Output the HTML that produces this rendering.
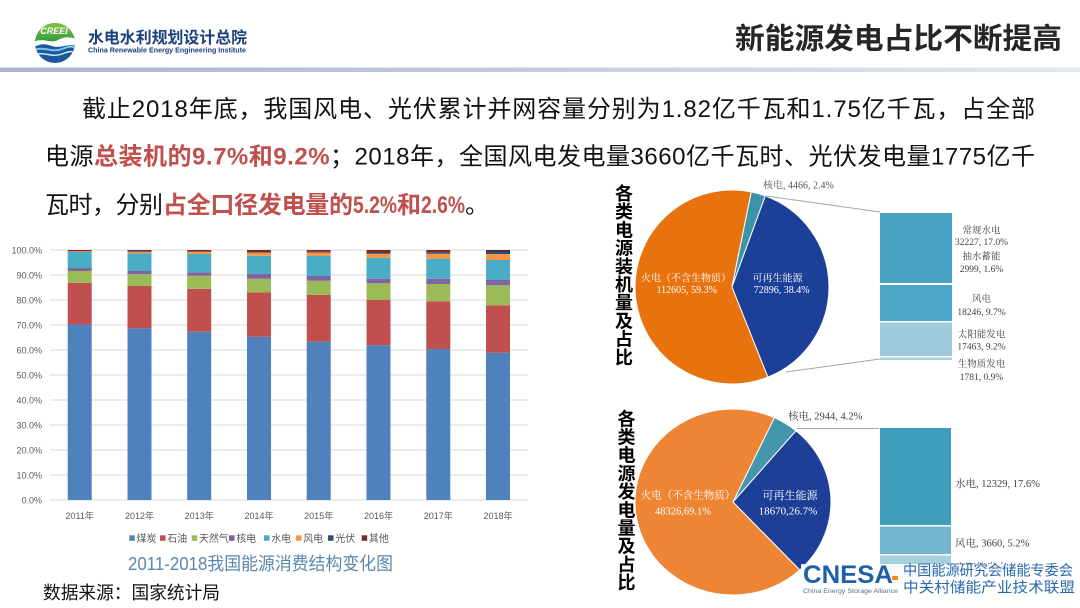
<!DOCTYPE html>
<html>
<head>
<meta charset="utf-8">
<style>
  html,body{margin:0;padding:0;background:#fff;}
  body{width:1080px;height:608px;overflow:hidden;position:relative;}
  svg{position:absolute;left:0;top:0;}
  .s{font-family:"Liberation Sans","Noto Sans CJK SC",sans-serif;}
  .sf{font-family:"Liberation Serif","Noto Serif CJK SC",serif;}
</style>
</head>
<body>
<svg width="1080" height="608" viewBox="0 0 1080 608" xmlns="http://www.w3.org/2000/svg">
  <defs>
    <linearGradient id="hl" x1="0" x2="1" y1="0" y2="0">
      <stop offset="0" stop-color="#a7b4cb"/>
      <stop offset="0.5" stop-color="#c3ccdb"/>
      <stop offset="1" stop-color="#e4e9f0"/>
    </linearGradient>
    <linearGradient id="lgG" x1="0" y1="0" x2="0" y2="1">
      <stop offset="0" stop-color="#8dc63f"/>
      <stop offset="1" stop-color="#2f9a45"/>
    </linearGradient>
    <clipPath id="lc"><circle cx="55" cy="43" r="20"/></clipPath>
  </defs>

  <!-- Header -->
  <rect x="0" y="67.5" width="1080" height="4.5" fill="url(#hl)"/>
  <g clip-path="url(#lc)">
    <rect x="34" y="22" width="42" height="42" fill="#1b5a9e"/>
    <rect x="34" y="22" width="42" height="20" fill="url(#lgG)"/>
    <path d="M34,42 C42,37 50,44 58,40 S70,37 76,39 V46 C68,43 60,49 52,46 S40,44 34,47 Z" fill="#fff"/>
    <path d="M34,50 C44,46 52,53 62,49 S72,47 76,48" stroke="#7fc4e8" stroke-width="2" fill="none"/>
    <path d="M34,55 C44,51 52,58 62,54 S72,52 76,53" stroke="#d8ecf7" stroke-width="1.4" fill="none"/>
  </g>
  <text x="54" y="34" class="s" font-size="9" font-style="italic" font-weight="bold" fill="#fff" text-anchor="middle">CREEI</text>
  <text x="88" y="43" class="s" font-size="16" font-weight="bold" fill="#1c3f7e" textLength="159" lengthAdjust="spacingAndGlyphs">水电水利规划设计总院</text>
  <text x="88" y="52.5" class="s" font-size="7" font-weight="bold" fill="#1c3f7e" textLength="158" lengthAdjust="spacingAndGlyphs">China Renewable Energy Engineering Institute</text>

  <text x="735" y="48.5" class="s" font-size="29" font-weight="bold" fill="#262626" textLength="327" lengthAdjust="spacingAndGlyphs">新能源发电占比不断提高</text>

  <!-- Paragraph -->
  <text x="82" y="117" class="s" font-size="24" fill="#111" textLength="953" lengthAdjust="spacing">截止2018年底，我国风电、光伏累计并网容量分别为1.82亿千瓦和1.75亿千瓦，占全部</text>
  <text x="45" y="164.5" class="s" font-size="24" fill="#111" textLength="990" lengthAdjust="spacing">电源<tspan font-weight="bold" fill="#c0504d">总装机的9.7%和9.2%</tspan>；2018年，全国风电发电量3660亿千瓦时、光伏发电量1775亿千</text>
  <g class="s" font-size="24">
    <text x="45" y="213" fill="#111" textLength="118" lengthAdjust="spacing">瓦时，分别</text>
    <text x="163" y="213" fill="#c0504d" font-weight="bold" textLength="190" lengthAdjust="spacing">占全口径发电量的</text>
    <text x="353" y="213" fill="#c0504d" font-weight="bold" textLength="44" lengthAdjust="spacingAndGlyphs">5.2%</text>
    <text x="397" y="213" fill="#c0504d" font-weight="bold">和</text>
    <text x="421" y="213" fill="#c0504d" font-weight="bold" textLength="44" lengthAdjust="spacingAndGlyphs">2.6%</text>
    <text x="465" y="213" fill="#111">。</text>
  </g>

  <!-- Bar chart gridlines -->
  <g stroke="#d9d9d9" stroke-width="1">
    <line x1="50" y1="250" x2="528" y2="250"/>
    <line x1="50" y1="275" x2="528" y2="275"/>
    <line x1="50" y1="300" x2="528" y2="300"/>
    <line x1="50" y1="325" x2="528" y2="325"/>
    <line x1="50" y1="350" x2="528" y2="350"/>
    <line x1="50" y1="375" x2="528" y2="375"/>
    <line x1="50" y1="400" x2="528" y2="400"/>
    <line x1="50" y1="425" x2="528" y2="425"/>
    <line x1="50" y1="450" x2="528" y2="450"/>
    <line x1="50" y1="475" x2="528" y2="475"/>
    <line x1="50" y1="500" x2="528" y2="500"/>
  </g>
  <g class="s" font-size="9" fill="#595959" text-anchor="end">
    <text x="42" y="253.3">100.0%</text>
    <text x="42" y="278.3">90.0%</text>
    <text x="42" y="303.3">80.0%</text>
    <text x="42" y="328.3">70.0%</text>
    <text x="42" y="353.3">60.0%</text>
    <text x="42" y="378.3">50.0%</text>
    <text x="42" y="403.3">40.0%</text>
    <text x="42" y="428.3">30.0%</text>
    <text x="42" y="453.3">20.0%</text>
    <text x="42" y="478.3">10.0%</text>
    <text x="42" y="503.3">0.0%</text>
  </g>

  <!-- Bars -->
  <g transform="translate(67.7,0)">
    <rect x="0" y="324.5" width="24" height="175.5" fill="#4f81bd"/>
    <rect x="0" y="282.75" width="24" height="41.75" fill="#c0504d"/>
    <rect x="0" y="271" width="24" height="11.75" fill="#9bbb59"/>
    <rect x="0" y="268" width="24" height="3" fill="#8064a2"/>
    <rect x="0" y="252" width="24" height="16" fill="#4bacc6"/>
    <rect x="0" y="251.25" width="24" height="0.75" fill="#f79646"/>
    <rect x="0" y="250" width="24" height="1.25" fill="#772c2a"/>
  </g>
  <g transform="translate(127.5,0)">
    <rect x="0" y="328.25" width="24" height="171.75" fill="#4f81bd"/>
    <rect x="0" y="286" width="24" height="42.25" fill="#c0504d"/>
    <rect x="0" y="274.25" width="24" height="11.75" fill="#9bbb59"/>
    <rect x="0" y="271" width="24" height="3.25" fill="#8064a2"/>
    <rect x="0" y="253.25" width="24" height="17.75" fill="#4bacc6"/>
    <rect x="0" y="251.75" width="24" height="1.5" fill="#f79646"/>
    <rect x="0" y="251.5" width="24" height="0.25" fill="#2c4d75"/>
    <rect x="0" y="250" width="24" height="1.5" fill="#772c2a"/>
  </g>
  <g transform="translate(187.2,0)">
    <rect x="0" y="331.75" width="24" height="168.25" fill="#4f81bd"/>
    <rect x="0" y="288.75" width="24" height="43" fill="#c0504d"/>
    <rect x="0" y="275.75" width="24" height="13" fill="#9bbb59"/>
    <rect x="0" y="272.25" width="24" height="3.5" fill="#8064a2"/>
    <rect x="0" y="254" width="24" height="18.25" fill="#4bacc6"/>
    <rect x="0" y="251.75" width="24" height="2.25" fill="#f79646"/>
    <rect x="0" y="251.5" width="24" height="0.25" fill="#2c4d75"/>
    <rect x="0" y="250" width="24" height="1.5" fill="#772c2a"/>
  </g>
  <g transform="translate(247,0)">
    <rect x="0" y="336.75" width="24" height="163.25" fill="#4f81bd"/>
    <rect x="0" y="292.25" width="24" height="44.5" fill="#c0504d"/>
    <rect x="0" y="278.75" width="24" height="13.5" fill="#9bbb59"/>
    <rect x="0" y="274" width="24" height="4.75" fill="#8064a2"/>
    <rect x="0" y="255.75" width="24" height="18.25" fill="#4bacc6"/>
    <rect x="0" y="252.5" width="24" height="3.25" fill="#f79646"/>
    <rect x="0" y="252" width="24" height="0.5" fill="#2c4d75"/>
    <rect x="0" y="250" width="24" height="2" fill="#772c2a"/>
  </g>
  <g transform="translate(306.7,0)">
    <rect x="0" y="341.75" width="24" height="158.25" fill="#4f81bd"/>
    <rect x="0" y="295" width="24" height="46.75" fill="#c0504d"/>
    <rect x="0" y="280.75" width="24" height="14.25" fill="#9bbb59"/>
    <rect x="0" y="276" width="24" height="4.75" fill="#8064a2"/>
    <rect x="0" y="256" width="24" height="20" fill="#4bacc6"/>
    <rect x="0" y="252.5" width="24" height="3.5" fill="#f79646"/>
    <rect x="0" y="251.75" width="24" height="0.75" fill="#2c4d75"/>
    <rect x="0" y="250" width="24" height="1.75" fill="#772c2a"/>
  </g>
  <g transform="translate(366.5,0)">
    <rect x="0" y="345.25" width="24" height="154.75" fill="#4f81bd"/>
    <rect x="0" y="300" width="24" height="45.25" fill="#c0504d"/>
    <rect x="0" y="283.25" width="24" height="16.75" fill="#9bbb59"/>
    <rect x="0" y="278.75" width="24" height="4.5" fill="#8064a2"/>
    <rect x="0" y="257.75" width="24" height="21" fill="#4bacc6"/>
    <rect x="0" y="253.75" width="24" height="4" fill="#f79646"/>
    <rect x="0" y="252.5" width="24" height="1.25" fill="#2c4d75"/>
    <rect x="0" y="250" width="24" height="2.5" fill="#772c2a"/>
  </g>
  <g transform="translate(426.3,0)">
    <rect x="0" y="349" width="24" height="151" fill="#4f81bd"/>
    <rect x="0" y="301.25" width="24" height="47.75" fill="#c0504d"/>
    <rect x="0" y="284" width="24" height="17.25" fill="#9bbb59"/>
    <rect x="0" y="278.75" width="24" height="5.25" fill="#8064a2"/>
    <rect x="0" y="258.75" width="24" height="20" fill="#4bacc6"/>
    <rect x="0" y="253.75" width="24" height="5" fill="#f79646"/>
    <rect x="0" y="252.25" width="24" height="1.5" fill="#2c4d75"/>
    <rect x="0" y="250" width="24" height="2.25" fill="#772c2a"/>
  </g>
  <g transform="translate(486,0)">
    <rect x="0" y="352.75" width="24" height="147.25" fill="#4f81bd"/>
    <rect x="0" y="305.25" width="24" height="47.5" fill="#c0504d"/>
    <rect x="0" y="285.25" width="24" height="20" fill="#9bbb59"/>
    <rect x="0" y="280" width="24" height="5.25" fill="#8064a2"/>
    <rect x="0" y="260" width="24" height="20" fill="#4bacc6"/>
    <rect x="0" y="254" width="24" height="6" fill="#f79646"/>
    <rect x="0" y="252" width="24" height="2" fill="#2c4d75"/>
    <rect x="0" y="250" width="24" height="2" fill="#4a3040"/>
  </g>

  <!-- X labels -->
  <g class="s" font-size="9" fill="#595959" text-anchor="middle">
    <text x="79.7" y="519">2011年</text>
    <text x="139.5" y="519">2012年</text>
    <text x="199.2" y="519">2013年</text>
    <text x="259" y="519">2014年</text>
    <text x="318.7" y="519">2015年</text>
    <text x="378.5" y="519">2016年</text>
    <text x="438.3" y="519">2017年</text>
    <text x="498" y="519">2018年</text>
  </g>

  <!-- Legend -->
  <g class="s" font-size="10" fill="#595959">
    <rect x="129.3" y="535.3" width="5.5" height="5.5" fill="#4f81bd"/><text x="136.5" y="541.8">煤炭</text>
    <rect x="160" y="535.3" width="5.5" height="5.5" fill="#c0504d"/><text x="167.2" y="541.8">石油</text>
    <rect x="191.7" y="535.3" width="5.5" height="5.5" fill="#9bbb59"/><text x="198.9" y="541.8">天然气</text>
    <rect x="229" y="535.3" width="5.5" height="5.5" fill="#8064a2"/><text x="236.2" y="541.8">核电</text>
    <rect x="264" y="535.3" width="5.5" height="5.5" fill="#4bacc6"/><text x="271.2" y="541.8">水电</text>
    <rect x="296" y="535.3" width="5.5" height="5.5" fill="#f79646"/><text x="303.2" y="541.8">风电</text>
    <rect x="328" y="535.3" width="5.5" height="5.5" fill="#2c4d75"/><text x="335.2" y="541.8">光伏</text>
    <rect x="361.7" y="535.3" width="5.5" height="5.5" fill="#772c2a"/><text x="368.9" y="541.8">其他</text>
  </g>

  <text x="128" y="570" class="s" font-size="18" fill="#5a87ac" textLength="265" lengthAdjust="spacingAndGlyphs">2011-2018我国能源消费结构变化图</text>
  <text x="43" y="599" class="s" font-size="18" fill="#111" textLength="177" lengthAdjust="spacingAndGlyphs">数据来源：国家统计局</text>

  <!-- Vertical titles -->
  <text class="s" font-size="18" font-weight="bold" fill="#000" text-anchor="middle">
    <tspan x="624" y="200">各</tspan><tspan x="624" y="218.2">类</tspan><tspan x="624" y="236.4">电</tspan><tspan x="624" y="254.6">源</tspan><tspan x="624" y="272.8">装</tspan><tspan x="624" y="291">机</tspan><tspan x="624" y="309.2">量</tspan><tspan x="624" y="327.4">及</tspan><tspan x="624" y="345.6">占</tspan><tspan x="624" y="363.8">比</tspan>
  </text>
  <text class="s" font-size="18" font-weight="bold" fill="#000" text-anchor="middle">
    <tspan x="626.5" y="425.3">各</tspan><tspan x="626.5" y="443.5">类</tspan><tspan x="626.5" y="461.7">电</tspan><tspan x="626.5" y="479.9">源</tspan><tspan x="626.5" y="498.1">发</tspan><tspan x="626.5" y="516.3">电</tspan><tspan x="626.5" y="534.5">量</tspan><tspan x="626.5" y="552.7">及</tspan><tspan x="626.5" y="570.9">占</tspan><tspan x="626.5" y="589.1">比</tspan>
  </text>

  <!-- Top pie -->
  <g stroke="#fff" stroke-width="1">
    <path d="M732,287 L767.9,377.1 A97,97 0 1 1 751.3,191.9 Z" fill="#e8730e"/>
    <path d="M732,287 L751.3,191.9 A97,97 0 0 1 765.3,195.9 Z" fill="#3a93a8"/>
    <path d="M732,287 L765.3,195.9 A97,97 0 0 1 767.9,377.1 Z" fill="#1c3f97"/>
  </g>
  <g stroke="#a6a6a6" stroke-width="1">
    <line x1="765.3" y1="195.9" x2="880" y2="212"/>
    <line x1="786" y1="372" x2="880" y2="359"/>
  </g>
  <g class="sf" font-size="10" fill="#fff" text-anchor="middle">
    <text x="686" y="281.5">火电（不含生物质）</text>
    <text x="686.7" y="293">112605, 59.3%</text>
    <text x="777.5" y="281.5">可再生能源</text>
    <text x="781.7" y="293">72896, 38.4%</text>
  </g>
  <text x="763" y="188.5" class="sf" font-size="10" fill="#595959">核电, 4466, 2.4%</text>

  <rect x="880" y="213" width="72" height="70" fill="#4aa3c3"/>
  <rect x="880" y="285" width="72" height="36" fill="#4ba7c5"/>
  <rect x="880" y="322.5" width="72" height="33.5" fill="#9fcadb"/>
  <rect x="880" y="357.5" width="72" height="2.5" fill="#a8d0df"/>
  <g class="sf" font-size="9.5" fill="#404040" text-anchor="middle">
    <text x="981.5" y="233.5">常规水电</text>
    <text x="981.5" y="245.2">32227, 17.0%</text>
    <text x="981.5" y="259.5">抽水蓄能</text>
    <text x="981.5" y="271.8">2999, 1.6%</text>
    <text x="981.5" y="301.8">风电</text>
    <text x="981.5" y="315.2">18246, 9.7%</text>
    <text x="981.5" y="337.5">太阳能发电</text>
    <text x="981.5" y="349.5">17463, 9.2%</text>
    <text x="981.5" y="366.8">生物质发电</text>
    <text x="981.5" y="380.2">1781, 0.9%</text>
  </g>

  <!-- Bottom pie -->
  <g stroke="#fff" stroke-width="1">
    <path d="M733,502 L799.8,570 A98,93 0 1 1 774.4,417.7 Z" fill="#ee8535"/>
    <path d="M733,502 L774.4,417.7 A98,93 0 0 1 796,430.8 Z" fill="#4496aa"/>
    <path d="M733,502 L796,430.8 A98,93 0 0 1 799.8,570 Z" fill="#1d3f97"/>
  </g>
  <line x1="797" y1="428.5" x2="879" y2="428.5" stroke="#a6a6a6" stroke-width="1"/>
  <g class="sf" fill="#fff" text-anchor="middle">
    <text x="688" y="498.7" font-size="10.5">火电（不含生物质）</text>
    <text x="683" y="514.7" font-size="10.5">48326,69.1%</text>
    <text x="790" y="499" font-size="11">可再生能源</text>
    <text x="788" y="514.7" font-size="11">18670,26.7%</text>
  </g>
  <text x="788" y="419.5" class="sf" font-size="10.5" fill="#404040">核电, 2944, 4.2%</text>

  <rect x="880" y="428" width="71" height="97" fill="#3d9dbb"/>
  <rect x="880" y="526.5" width="71" height="27.5" fill="#74b6cf"/>
  <rect x="880" y="555.5" width="71" height="20" fill="#a6d0de"/>
  <g class="sf" font-size="10.5" fill="#404040">
    <text x="955" y="487">水电, 12329, 17.6%</text>
    <text x="955" y="546.5">风电, 3660, 5.2%</text>
    <text x="955" y="571">太阳能发电, 1775, 2.6%</text>
  </g>

  <!-- CNESA logo -->
  <rect x="801" y="564" width="279" height="44" fill="#fff" opacity="0.88"/>
  <text x="803" y="583" class="s" font-size="25" font-weight="bold" fill="#1f5fa8" textLength="90" lengthAdjust="spacingAndGlyphs">CNESA</text>
  <rect x="892" y="576" width="6" height="4" fill="#f08a24"/>
  <text x="803" y="593" class="s" font-size="6.5" fill="#5a6f8a" textLength="95" lengthAdjust="spacingAndGlyphs">China Energy Storage Alliance</text>
  <text x="903" y="575.5" class="s" font-size="14.5" fill="#2a69ad" textLength="170" lengthAdjust="spacingAndGlyphs">中国能源研究会储能专委会</text>
  <text x="903" y="592.5" class="s" font-size="14.5" fill="#2a69ad" textLength="172" lengthAdjust="spacingAndGlyphs">中关村储能产业技术联盟</text>
</svg>
</body>
</html>
